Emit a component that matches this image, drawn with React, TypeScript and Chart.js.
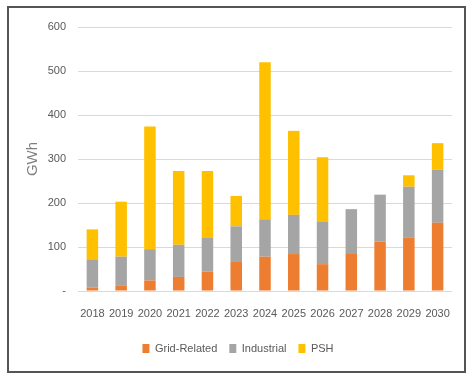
import React, { useEffect, useRef } from "react";
import { Chart, registerables } from "chart.js";

Chart.register(...registerables);

const years = ["2018","2019","2020","2021","2022","2023","2024","2025","2026","2027","2028","2029","2030"];
const gridRelated = [8, 13, 24, 32, 44, 66, 78, 84, 61, 86, 112, 122, 155];
const industrial = [64, 65, 71, 73, 78, 81, 85, 89, 96, 100, 107, 115, 121];
const psh = [68, 125, 279, 168, 151, 69, 357, 191, 147, 0, 0, 26, 60];
const yTicks = [0, 100, 200, 300, 400, 500, 600];

const FONT = "'Liberation Sans', Arial, sans-serif";

const frame = {
  id: "frame",
  afterDraw(chart: any) {
    const ctx = chart.ctx;
    ctx.save();
    ctx.strokeStyle = "#555555";
    ctx.lineWidth = 2;
    ctx.strokeRect(8, 7, 457, 365);
    ctx.restore();
  },
};

export default function App() {
  const ref = useRef<HTMLCanvasElement | null>(null);
  useEffect(() => {
    if (!ref.current) return;
    const chart = new Chart(ref.current, {
      type: "bar",
      data: {
        labels: years,
        datasets: [
          { label: "Grid-Related", data: gridRelated, backgroundColor: "#ED7D31", categoryPercentage: 0.4, barPercentage: 1 },
          { label: "Industrial", data: industrial, backgroundColor: "#A5A5A5", categoryPercentage: 0.4, barPercentage: 1 },
          { label: "PSH", data: psh, backgroundColor: "#FFC000", categoryPercentage: 0.4, barPercentage: 1 },
        ],
      },
      options: {
        animation: false,
        responsive: false,
        layout: { padding: { left: 24, right: 20, top: 27, bottom: 13 } },
        plugins: {
          legend: {
            position: "bottom",
            labels: {
              boxWidth: 7,
              boxHeight: 9,
              padding: 12,
              color: "#595959",
              font: { family: FONT, size: 11 },
            },
          },
          tooltip: { enabled: false },
        },
        scales: {
          x: {
            stacked: true,
            afterFit: (s: any) => { s.height = 40; },
            grid: { display: false, drawTicks: false },
            border: { display: false },
            ticks: { color: "#595959", font: { family: FONT, size: 11 }, padding: 16, maxRotation: 0, autoSkip: false },
          },
          y: {
            stacked: true,
            min: 0,
            max: 600,
            afterBuildTicks: (s: any) => { s.ticks = yTicks.map((v) => ({ value: v })); },
            afterFit: (s: any) => { s.width = 54; },
            grid: { color: "#D9D9D9", lineWidth: 1, drawTicks: false },
            border: { display: false },
            ticks: {
              color: "#595959",
              font: { family: FONT, size: 11 },
              padding: 12,
              callback: (v: any) => (v === 0 ? "-" : String(v)),
            },
            title: { display: true, text: "GWh", color: "#7F7F7F", font: { family: FONT, size: 15 }, padding: 0 },
          },
        },
      },
      plugins: [frame],
    });
    return () => chart.destroy();
  }, []);
  return (
    <div style={{ position: "fixed", left: 0, top: 0, width: 472, height: 377, background: "#fff" }}>
      <canvas ref={ref} width={472} height={377} style={{ width: 472, height: 377 }} />
    </div>
  );
}
